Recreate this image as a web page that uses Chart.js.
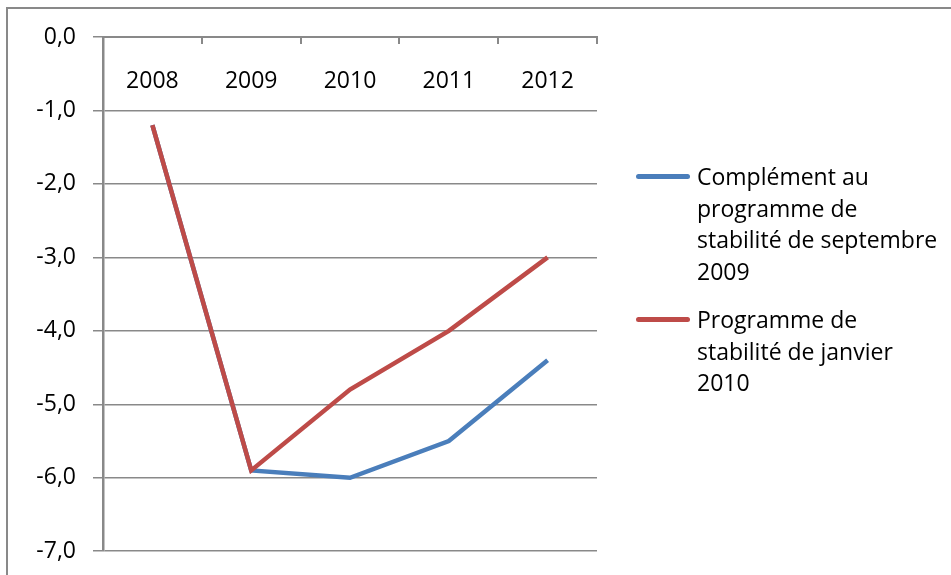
<!DOCTYPE html>
<html lang="fr">
<head>
    <meta charset="UTF-8">
    <title>Solde public</title>
    <script src="https://cdn.jsdelivr.net/npm/chart.js"></script>
    <style>
        html, body { margin: 0; padding: 0; overflow: hidden; background: #fff; }
        #frame { position: absolute; left: 6px; top: 7px; width: 1200px; height: 900px; border: 2px solid #898989; }
        #wrap { position: absolute; left: 0; top: 0; width: 951px; height: 575px; overflow: hidden; }
        #legend { position: absolute; left: 636px; top: 0; font-family: "Open Sans", sans-serif; font-size: 23px; line-height: 31.5px; color: #000; }
        .item { position: absolute; left: 0; width: 320px; }
        .swatch { position: absolute; left: 0; width: 54px; height: 5px; border-radius: 3px; }
        .txt { position: absolute; left: 61px; white-space: nowrap; }
    </style>
</head>
<body>
    <div id="frame"></div>
    <div id="wrap"><canvas id="chart" width="951" height="582"></canvas></div>
    <div id="legend"></div>
    <script>
        const years = ['2008', '2009', '2010', '2011', '2012'];
        const complementSept2009 = [-1.2, -5.9, -6.0, -5.5, -4.4];
        const programmeJan2010 = [-1.2, -5.9, -4.8, -4.0, -3.0];
        const seriesNames = [
            ['Complément au', 'programme de', 'stabilité de septembre', '2009'],
            ['Programme de', 'stabilité de janvier', '2010']
        ];
        const seriesColors = ['#4a7ebb', '#be4b48'];

        const axisGrey = '#898989';
        const fontFamily = '"Open Sans", sans-serif';

        // legend drawn as html because the labels wrap over several lines
        const legendTops = [161, 304];
        const legend = document.getElementById('legend');
        seriesNames.forEach((lines, i) => {
            const item = document.createElement('div');
            item.className = 'item';
            item.style.top = legendTops[i] + 'px';
            const sw = document.createElement('div');
            sw.className = 'swatch';
            sw.style.background = seriesColors[i];
            sw.style.top = '13px';
            const txt = document.createElement('div');
            txt.className = 'txt';
            txt.innerHTML = lines.join('<br>');
            item.appendChild(sw);
            item.appendChild(txt);
            legend.appendChild(item);
        });

        const ctx = document.getElementById('chart').getContext('2d');
        new Chart(ctx, {
            type: 'line',
            data: {
                labels: years,
                datasets: [{
                    label: seriesNames[0].join(' '),
                    data: complementSept2009,
                    borderColor: seriesColors[0],
                    borderWidth: 4.5,
                    pointRadius: 0,
                    tension: 0,
                    order: 1
                }, {
                    label: seriesNames[1].join(' '),
                    data: programmeJan2010,
                    borderColor: seriesColors[1],
                    borderWidth: 4.5,
                    pointRadius: 0,
                    tension: 0,
                    order: 0
                }]
            },
            options: {
                responsive: false,
                animation: false,
                layout: {
                    padding: { top: 37, right: 354, bottom: 0, left: 0 }
                },
                scales: {
                    x: {
                        position: { y: 0 },
                        offset: true,
                        afterFit: function(scale) { scale.height = 18; },
                        grid: {
                            offset: true,
                            drawOnChartArea: false,
                            drawTicks: true,
                            tickLength: 6,
                            color: axisGrey,
                            lineWidth: 2
                        },
                        border: { color: axisGrey, width: 2 },
                        ticks: {
                            padding: 25,
                            color: '#000',
                            font: { family: fontFamily, size: 23 },
                            maxRotation: 0
                        }
                    },
                    y: {
                        min: -7,
                        max: 0,
                        afterFit: function(scale) { scale.width = 103; },
                        grid: {
                            color: axisGrey,
                            lineWidth: 1.5,
                            tickLength: 10
                        },
                        border: { color: axisGrey, width: 2.5 },
                        ticks: {
                            stepSize: 1,
                            padding: 17,
                            color: '#000',
                            font: { family: fontFamily, size: 23 },
                            callback: function(value) {
                                return value.toFixed(1).replace('.', ',');
                            }
                        }
                    }
                },
                plugins: {
                    legend: { display: false },
                    tooltip: { enabled: false }
                }
            }
        });
    </script>
</body>
</html>
